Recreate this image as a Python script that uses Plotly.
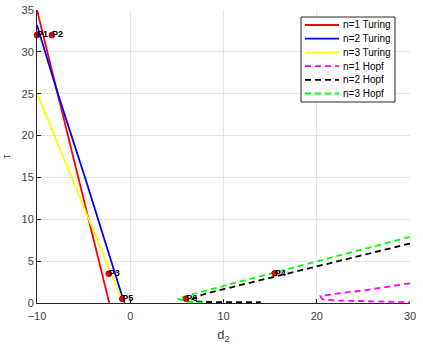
import plotly.graph_objects as go

# Turing curves
t1_d2 = [-10.0, -2.25]
t1_tau = [35.0, 0.0]
t2_d2 = [-10.0, -7.76, -4.85, -2.1, -0.64]
t2_tau = [33.2, 25.0, 15.0, 5.0, 0.0]
t3_d2 = [-10.0, -4.45, -0.75]
t3_tau = [25.1, 10.0, 0.0]

# Hopf curves (upper branch + lower branch joined at the turning point)
h1_d2 = [30.0, 25.0, 22.0, 20.4, 20.6, 22.0, 26.0, 30.0]
h1_tau = [2.35, 1.5, 1.1, 0.82, 0.45, 0.3, 0.2, 0.1]
h2_d2 = [30.0, 25.0, 20.0, 15.0, 10.0, 8.0, 6.6, 7.2, 8.0, 10.0, 14.0]
h2_tau = [7.1, 5.75, 4.4, 3.05, 1.65, 1.1, 0.45, 0.18, 0.12, 0.12, 0.1]
h3_d2 = [30.0, 25.0, 20.0, 15.0, 10.0, 7.5, 5.1, 6.0, 7.0, 8.0]
h3_tau = [7.9, 6.45, 5.0, 3.55, 2.05, 1.3, 0.5, 0.2, 0.08, 0.03]

# Labeled points
p_names = ["P1", "P2", "P3", "P4", "P5", "P6"]
p_d2 = [-10.0, -8.4, -2.3, 15.5, -0.85, 6.0]
p_tau = [32.0, 32.0, 3.5, 3.55, 0.5, 0.5]

series_names = ["n=1 Turing", "n=2 Turing", "n=3 Turing", "n=1 Hopf", "n=2 Hopf", "n=3 Hopf"]
series_colors = ["#ff0000", "#0000ff", "#ffff00", "#ff00ff", "#000000", "#00ff00"]
series_dash = ["solid", "solid", "solid", "6px,4px", "6px,4px", "6px,4px"]
series_x = [t1_d2, t2_d2, t3_d2, h1_d2, h2_d2, h3_d2]
series_y = [t1_tau, t2_tau, t3_tau, h1_tau, h2_tau, h3_tau]

FONT = "Liberation Sans, Arial, sans-serif"

fig = go.Figure()

for x, y, name, color, dash in zip(series_x, series_y, series_names, series_colors, series_dash):
    fig.add_trace(go.Scatter(
        x=x, y=y, mode="lines", name=name,
        line=dict(color=color, width=1.8, dash=dash),
        showlegend=False, hoverinfo="skip"))

fig.add_trace(go.Scatter(
    x=p_d2, y=p_tau, mode="markers",
    marker=dict(color="#ff0000", size=6, line=dict(color="#400000", width=0.6)),
    showlegend=False, cliponaxis=False, hoverinfo="skip"))

# point labels placed just right of the marker centre (as in MATLAB text())
fig.add_trace(go.Scatter(
    x=p_d2, y=p_tau, mode="text",
    text=["<b>%s</b>" % s for s in p_names],
    textposition="middle right",
    textfont=dict(family=FONT, size=9, color="#000000"),
    showlegend=False, cliponaxis=False, hoverinfo="skip"))

# Compact legend box (MATLAB style), drawn in paper coordinates
PL, PR, PT, PB = 37, 410, 10, 303  # plot area in pixels
def px_x(p):
    return (p - PL) / (PR - PL)
def px_y(p):
    return (PB - p) / (PB - PT)

shapes = [dict(type="rect", xref="paper", yref="paper",
               x0=px_x(301), x1=px_x(395), y0=px_y(102), y1=px_y(17),
               fillcolor="white", line=dict(color="#262626", width=1), layer="above")]
annotations = []
for i, (name, color, dash) in enumerate(zip(series_names, series_colors, series_dash)):
    yc = 25 + 13.7 * i
    shapes.append(dict(type="line", xref="paper", yref="paper",
                       x0=px_x(305), x1=px_x(339), y0=px_y(yc), y1=px_y(yc),
                       line=dict(color=color, width=1.8, dash=dash), layer="above"))
    annotations.append(dict(xref="paper", yref="paper", x=px_x(341), y=px_y(yc),
                            text=name, showarrow=False, xanchor="left", yanchor="middle",
                            font=dict(family=FONT, size=10, color="#000000")))

axis_font = dict(family=FONT, size=11, color="#404040")

fig.update_layout(
    width=423, height=350,
    margin=dict(l=PL, r=423 - PR, t=PT, b=350 - PB),
    paper_bgcolor="white", plot_bgcolor="white",
    font=axis_font,
    showlegend=False,
    shapes=shapes,
    annotations=annotations,
    xaxis=dict(
        range=[-10, 30], tickvals=[-10, 0, 10, 20, 30],
        showgrid=True, gridcolor="#e6e6e6", gridwidth=1,
        zeroline=False, showline=True, linecolor="#262626", linewidth=1,
        ticks="inside", ticklen=4, tickcolor="#262626",
        tickfont=axis_font, automargin=False, ticklabelstandoff=3,
        title=dict(text="d<sub>2</sub>", font=dict(family=FONT, size=13, color="#404040"), standoff=8),
    ),
    yaxis=dict(
        range=[0, 35], tickvals=[0, 5, 10, 15, 20, 25, 30, 35],
        showgrid=True, gridcolor="#e6e6e6", gridwidth=1,
        zeroline=False, showline=True, linecolor="#262626", linewidth=1,
        ticks="inside", ticklen=4, tickcolor="#262626",
        tickfont=axis_font, automargin=False,
        title=dict(text="τ", font=dict(family=FONT, size=11, color="#404040"), standoff=14),
    ),
)

fig.write_html("out.html")
